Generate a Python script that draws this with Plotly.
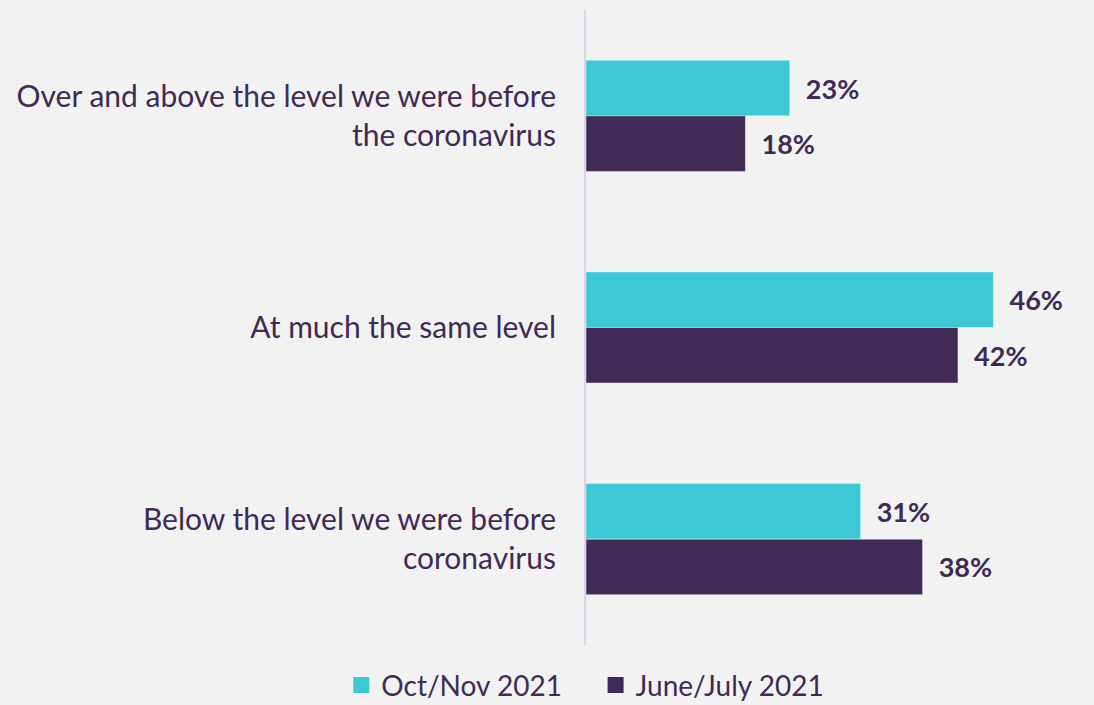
import plotly.graph_objects as go

categories = [
    "Over and above the level we were before<br>the coronavirus",
    "At much the same level",
    "Below the level we were before<br>coronavirus",
]
series_names = ["Oct/Nov 2021", "June/July 2021"]
oct_nov = [23, 46, 31]
june_july = [18, 42, 38]

CYAN = "#3cc9d5"
PURPLE = "#412a55"
BG = "#f2f2f2"
FONT = "Lato"
PAD = "\u00a0\u00a0"

fig = go.Figure()

for name, vals, col in zip(series_names, [oct_nov, june_july], [CYAN, PURPLE]):
    fig.add_trace(go.Bar(
        y=categories, x=vals, orientation="h", name=name,
        marker=dict(color=col), showlegend=False,
        text=[f"{PAD}{v}%" for v in vals], textposition="outside",
        textfont=dict(family=FONT, size=27, color=PURPLE, weight="bold"),
        cliponaxis=False,
    ))

# legend entries with bigger square swatches (extra gap after the first one)
legend_labels = [series_names[0] + "\u00a0" * 4, series_names[1]]
for name, col in zip(legend_labels, [CYAN, PURPLE]):
    fig.add_trace(go.Scatter(
        x=[None], y=[None], mode="markers", name=name,
        marker=dict(symbol="square", size=18, color=col),
    ))

fig.update_layout(
    width=1094, height=705,
    paper_bgcolor=BG, plot_bgcolor=BG,
    barmode="group", bargap=0.475, bargroupgap=0,
    margin=dict(l=586, r=20, t=10, b=60),
    font=dict(family=FONT, size=30, color=PURPLE),
    xaxis=dict(range=[0, 55.1], visible=False, fixedrange=True),
    yaxis=dict(
        autorange="reversed", showgrid=False, zeroline=False,
        showline=True, linecolor="#ddd3ea", linewidth=2,
        ticks="", ticklabelstandoff=22, fixedrange=True,
        tickfont=dict(family=FONT, size=30, color=PURPLE),
    ),
    legend=dict(
        orientation="h", x=0.535, xanchor="center", xref="container",
        y=0.028, yanchor="middle", yref="container",
        font=dict(family=FONT, size=28, color=PURPLE),
        itemwidth=30, traceorder="normal",
    ),
)

fig.write_html(
    "out.html",
    config={"displayModeBar": False},
    post_script="document.body.style.margin='0';document.body.style.background='#f2f2f2';",
)
